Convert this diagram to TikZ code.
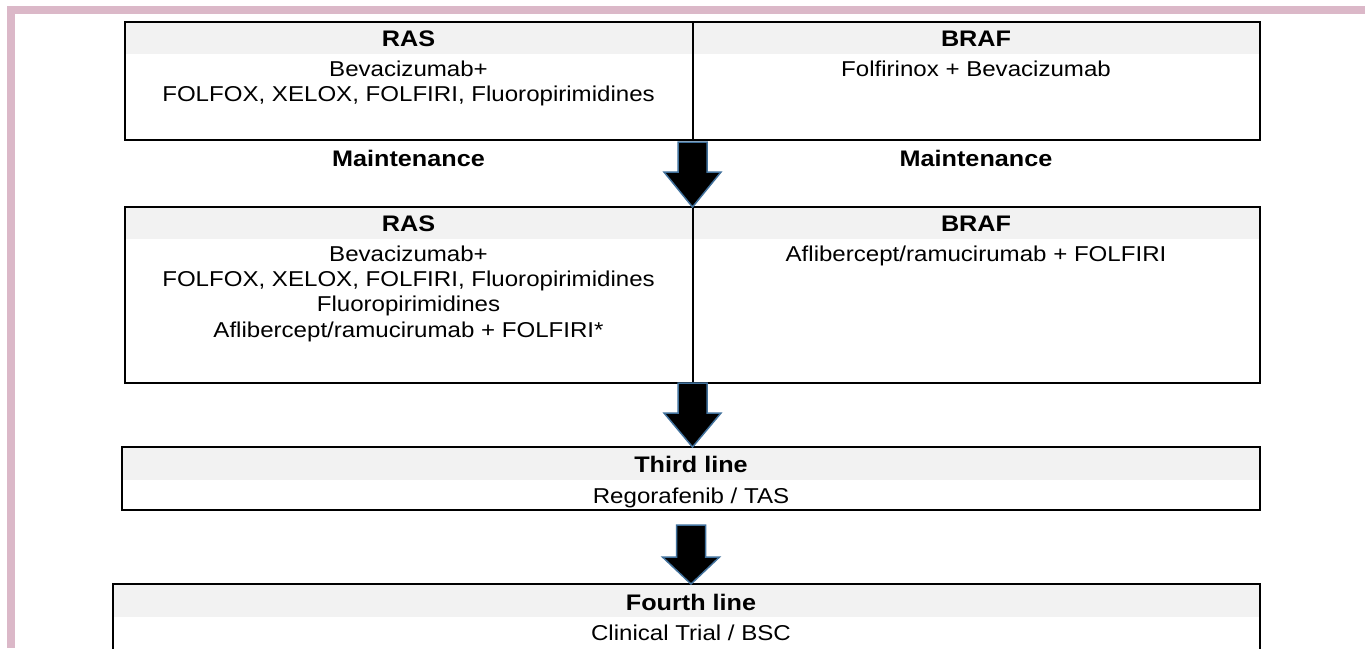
\documentclass[tikz,border=0pt]{standalone}
\usepackage{fontspec}
\setmainfont{Liberation Sans}[FakeStretch=1.12]
\usetikzlibrary{calc}
\definecolor{framepink}{RGB}{219,184,200}
\definecolor{hdrgray}{RGB}{242,242,242}
\definecolor{arrowblue}{RGB}{65,113,156}
\tikzset{
  boxframe/.style={draw=black, line width=2.5pt, inner sep=0pt, outer sep=0pt, anchor=north west},
  divline/.style={draw=black, line width=2pt},
  hdr/.style={fill=hdrgray},
  bodytxt/.style={font=\fontsize{21.5}{26}\selectfont, anchor=base, inner sep=0pt},
  headtxt/.style={font=\fontsize{22.5}{28}\selectfont\bfseries, anchor=base, inner sep=0pt},
  fatarrow/.style={fill=black, draw=arrowblue, line width=1.5pt, line join=miter}
}
% #1 top point, #2 tip point, #3 head length
\newcommand\fatdownarrow[3]{%
  \filldraw[fatarrow] ($(#1)+(-14.5,0)$) -- ($(#1)+(14.5,0)$) -- ($(#2)+(14.5,-#3)$)
    -- ($(#2)+(28.5,-#3)$) -- (#2) -- ($(#2)+(-28.5,-#3)$) -- ($(#2)+(-14.5,-#3)$) -- cycle;}
\begin{document}
\begin{tikzpicture}[x=1pt,y=-1pt]
\useasboundingbox (0,0) rectangle (1365,648);
\clip (0,0) rectangle (1365,648);
\fill[white] (0,0) rectangle (1365,648);
% frame
\fill[framepink] (7,6) rectangle (15,648);
\fill[framepink] (7,6) rectangle (1365,14);
% header bands
\fill[hdr] (125,22) rectangle (1260,54);
\fill[hdr] (125,207) rectangle (1260,239);
\fill[hdr] (122,447) rectangle (1260,480);
\fill[hdr] (113,584) rectangle (1260,617);
% boxes
\node[boxframe, minimum width=1135pt, minimum height=118pt] (b1) at (125,22) {};
\node[boxframe, minimum width=1135pt, minimum height=176pt] (b2) at (125,207) {};
\node[boxframe, minimum width=1138pt, minimum height=63pt] (b3) at (122,447) {};
\node[boxframe, minimum width=1147pt, minimum height=90pt] (b4) at (113,584) {};
\draw[divline] (b1.north) -- (b1.south);
\draw[divline] (b2.north) -- (b2.south);
% box 1 texts
\node[headtxt] (t1a) at (408.5,46) {RAS};
\node[bodytxt] (t1b) at (408.5,76) {Bevacizumab+};
\node[bodytxt] (t1c) at (408.5,101.5) {FOLFOX, XELOX, FOLFIRI, Fluoropirimidines};
\node[headtxt] (t1d) at (976,46) {BRAF};
\node[bodytxt] (t1e) at (976,76) {Folfirinox + Bevacizumab};
% maintenance
\node[headtxt] (m1) at (408.5,166) {Maintenance};
\node[headtxt] (m2) at (976,166) {Maintenance};
% box 2 texts
\node[headtxt] (t2a) at (408.5,231) {RAS};
\node[bodytxt] (t2b) at (408.5,261) {Bevacizumab+};
\node[bodytxt] (t2c) at (408.5,286.3) {FOLFOX, XELOX, FOLFIRI, Fluoropirimidines};
\node[bodytxt] (t2d) at (408.5,311.6) {Fluoropirimidines};
\node[bodytxt] (t2e) at (408.5,337) {Aflibercept/ramucirumab + FOLFIRI*};
\node[headtxt] (t2f) at (976,231) {BRAF};
\node[bodytxt] (t2g) at (976,261) {Aflibercept/ramucirumab + FOLFIRI};
% box 3 texts
\node[headtxt] (t3a) at (691,472) {Third line};
\node[bodytxt] (t3b) at (691,503) {Regorafenib / TAS};
% box 4 texts
\node[headtxt] (t4a) at (691,610) {Fourth line};
\node[bodytxt] (t4b) at (691,640) {Clinical Trial / BSC};
% arrows
\coordinate (a1top) at ($(b1.south)+(0,2)$);
\coordinate (a2top) at ($(b2.south)+(0,0)$);
\coordinate (a3top) at ($(b3.south)+(0,15)$);
\coordinate (a1tip) at (a1top |- b2.north);
\coordinate (a2tip) at (a2top |- b3.north);
\coordinate (a3tip) at (a3top |- b4.north);
\fatdownarrow{a1top}{a1tip}{35}
\fatdownarrow{a2top}{a2tip}{34}
\fatdownarrow{a3top}{a3tip}{27}
\end{tikzpicture}
\end{document}
